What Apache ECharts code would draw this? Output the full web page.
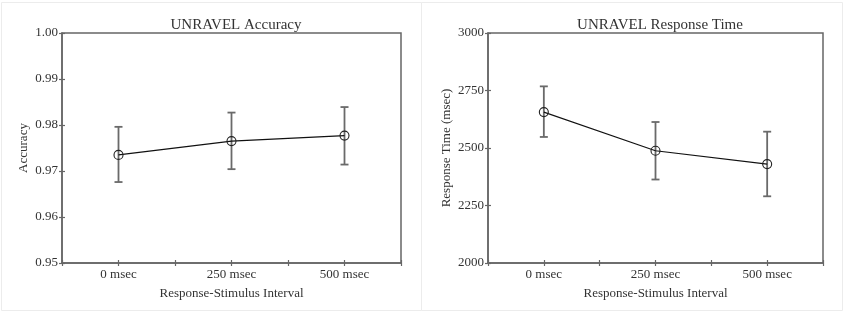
<!DOCTYPE html>
<html>
<head>
<meta charset="utf-8">
<title>UNRAVEL</title>
<script src="https://cdn.jsdelivr.net/npm/echarts@6/dist/echarts.min.js"></script>
<style>
  html, body { margin: 0; padding: 0; background: #fff; }
  #chart { width: 845px; height: 312px; }
</style>
</head>
<body>
<div id="chart"></div>
<script>
const intervals = ['0 msec', '250 msec', '500 msec'];

const accMean = [0.9735, 0.9765, 0.9777];
const accLow = [0.9676, 0.9704, 0.9714];
const accHigh = [0.9796, 0.9827, 0.9839];

const rtMean = [2656, 2488, 2430];
const rtLow = [2548, 2363, 2290];
const rtHigh = [2768, 2613, 2571];

const accTicks = { min: 0.95, max: 1.0, interval: 0.01 };
const rtTicks = { min: 2000, max: 3000, interval: 250 };

(function () {
  const font = '"Liberation Serif", "Times New Roman", serif';
  const ink = '#333';
  const frame = '#666';

  // x is a value axis from -0.5 to 2.5 so ticks fall on both centers and band edges
  function xAxes(gridIndex) {
    const base = {
      type: 'value', gridIndex: gridIndex, position: 'bottom', min: -0.5, max: 2.5, interval: 0.5,
      splitLine: { show: false }
    };
    return [
      Object.assign({}, base, {
        name: 'Response-Stimulus Interval',
        nameLocation: 'middle',
        nameGap: 24,
        nameTextStyle: { fontFamily: font, fontSize: 13, color: ink },
        axisLine: { show: true, onZero: false, lineStyle: { color: frame, width: 1.5 } },
        axisTick: { show: true, length: 3, lineStyle: { color: frame, width: 1.2 } },
        axisLabel: {
          fontFamily: font, fontSize: 13, color: ink, margin: 5,
          formatter: v => (Number.isInteger(v) && intervals[v] !== undefined) ? intervals[v] : ''
        }
      }),
      Object.assign({}, base, {
        axisLine: { show: false, onZero: false },
        axisTick: { show: true, inside: true, length: 3, lineStyle: { color: frame, width: 1.2 } },
        axisLabel: { show: false }
      })
    ];
  }

  function yAxes(gridIndex, ticks, name, nameGap, fmt) {
    const base = {
      type: 'value', gridIndex: gridIndex, position: 'left',
      min: ticks.min, max: ticks.max, interval: ticks.interval,
      splitLine: { show: false }
    };
    return [
      Object.assign({}, base, {
        name: name,
        nameLocation: 'middle',
        nameGap: nameGap,
        nameTextStyle: { fontFamily: font, fontSize: 13, color: ink },
        axisLine: { show: true, onZero: false, lineStyle: { color: frame, width: 1.5 } },
        axisTick: { show: true, length: 3, lineStyle: { color: frame, width: 1.2 } },
        axisLabel: { fontFamily: font, fontSize: 13, color: ink, margin: 4, formatter: fmt }
      }),
      Object.assign({}, base, {
        axisLine: { show: false, onZero: false },
        axisTick: { show: true, inside: true, length: 3, lineStyle: { color: frame, width: 1.2 } },
        axisLabel: { show: false }
      })
    ];
  }

  function errorBars(xAxisIndex, yAxisIndex, low, high) {
    return {
      type: 'custom',
      xAxisIndex: xAxisIndex,
      yAxisIndex: yAxisIndex,
      data: low.map((v, i) => [i, v, high[i]]),
      z: 2,
      renderItem: function (params, api) {
        const lo = api.coord([api.value(0), api.value(1)]);
        const hi = api.coord([api.value(0), api.value(2)]);
        const cap = 4;
        const style = { stroke: '#6a6a6a', lineWidth: 1.8 };
        return {
          type: 'group',
          children: [
            { type: 'line', shape: { x1: lo[0], y1: lo[1], x2: hi[0], y2: hi[1] }, style: style },
            { type: 'line', shape: { x1: lo[0] - cap, y1: lo[1], x2: lo[0] + cap, y2: lo[1] }, style: style },
            { type: 'line', shape: { x1: hi[0] - cap, y1: hi[1], x2: hi[0] + cap, y2: hi[1] }, style: style }
          ]
        };
      }
    };
  }

  function meanLine(xAxisIndex, yAxisIndex, values) {
    return {
      type: 'line',
      xAxisIndex: xAxisIndex,
      yAxisIndex: yAxisIndex,
      data: values.map((v, i) => [i, v]),
      z: 3,
      symbol: 'circle',
      symbolSize: 9,
      lineStyle: { color: '#111', width: 1.1 },
      itemStyle: { color: 'transparent', borderColor: '#222', borderWidth: 1.1 },
      emphasis: { disabled: true },
      animation: false
    };
  }

  const option = {
    animation: false,
    backgroundColor: '#fff',
    graphic: [
      { type: 'rect', shape: { x: 1.5, y: 2.5, width: 420, height: 308 }, style: { fill: 'none', stroke: '#ececec', lineWidth: 1 }, silent: true },
      { type: 'rect', shape: { x: 421.5, y: 2.5, width: 421, height: 308 }, style: { fill: 'none', stroke: '#ececec', lineWidth: 1 }, silent: true }
    ],
    title: [
      { text: 'UNRAVEL Accuracy', left: 231, top: 13, textAlign: 'center',
        textStyle: { fontFamily: font, fontSize: 15, fontWeight: 'normal', color: ink } },
      { text: 'UNRAVEL Response Time', left: 655, top: 13, textAlign: 'center',
        textStyle: { fontFamily: font, fontSize: 15, fontWeight: 'normal', color: ink } }
    ],
    grid: [
      { left: 62, top: 33, width: 339, height: 230, show: true, borderColor: frame, borderWidth: 1.5, backgroundColor: 'transparent' },
      { left: 488, top: 33, width: 335, height: 230, show: true, borderColor: frame, borderWidth: 1.5, backgroundColor: 'transparent' }
    ],
    xAxis: xAxes(0).concat(xAxes(1)),
    yAxis: yAxes(0, accTicks, 'Accuracy', 32, v => v.toFixed(2))
      .concat(yAxes(1, rtTicks, 'Response Time (msec)', 35, v => String(v))),
    series: [
      errorBars(0, 0, accLow, accHigh),
      meanLine(0, 0, accMean),
      errorBars(2, 2, rtLow, rtHigh),
      meanLine(2, 2, rtMean)
    ]
  };

  const chart = echarts.init(document.getElementById('chart'), null, { renderer: 'canvas' });
  chart.setOption(option);
})();
</script>
</body>
</html>
